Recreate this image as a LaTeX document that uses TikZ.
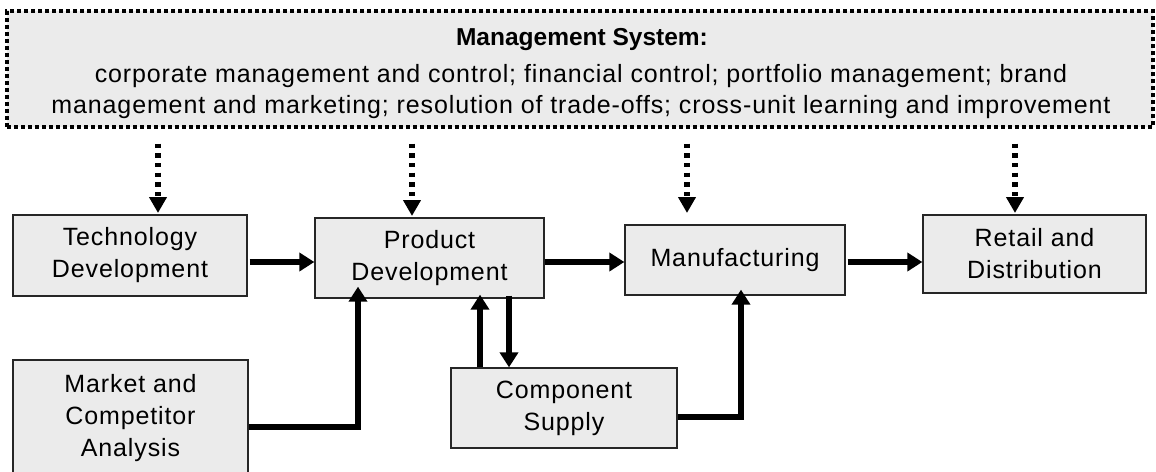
\documentclass[tikz,border=0pt]{standalone}
\usepackage{fontspec}
\setmainfont{Liberation Sans}[LetterSpace=3.5]
\newfontfamily\titlefont{Liberation Sans}[LetterSpace=0]
\usetikzlibrary{arrows.meta}
\definecolor{boxfill}{HTML}{EBEBEB}
\tikzset{
  stagebox/.style={draw=black!85, line width=1.3pt, fill=boxfill, align=center,
    inner sep=0pt, font=\fontsize{25}{32}\selectfont},
  txt/.style={anchor=base, inner sep=0pt, font=\fontsize{25}{31}\selectfont},
  flow/.style={line width=6pt, -{Triangle[length=15pt,width=18pt]}},
  ctrl/.style={line width=5.5pt, dash pattern=on 4.3pt off 5.4pt, -{Triangle[length=16pt,width=17pt]}},
}
\begin{document}
\begin{tikzpicture}[x=1pt,y=-1pt]
\useasboundingbox (0,0) rectangle (1156,471);
% management system
\node[draw=black, line width=3.2pt, dash pattern=on 4pt off 3pt, fill=boxfill,
  minimum width=1146pt, minimum height=116pt, inner sep=0pt] (mgmt) at (580,69) {};
\node[txt, font=\fontsize{24.5}{31}\titlefont\bfseries] (mtitle) at (582,45) {Management System:};
\node[txt] (mline1) at (581,82) {corporate management and control; financial control; portfolio management; brand};
\node[txt] (mline2) at (581,113) {management and marketing; resolution of trade-offs; cross-unit learning and improvement};
% stages
\node[stagebox, minimum width=234pt, minimum height=81pt] (tech) at (130,255.5) {Technology\\Development};
\node[stagebox, minimum width=229pt, minimum height=80pt] (prod) at (429.5,258) {Product\\Development};
\node[stagebox, minimum width=220pt, minimum height=70pt] (manu) at (735,260) {Manufacturing};
\node[stagebox, minimum width=223pt, minimum height=78pt] (retail) at (1034.5,254) {Retail and\\Distribution};
\node[stagebox, minimum width=235pt, minimum height=116pt] (market) at (130.5,418) {Market and\\Competitor\\Analysis};
\node[stagebox, minimum width=226pt, minimum height=80pt] (comp) at (564,408) {Component\\Supply};
% helper coordinates
\coordinate (yflow) at (0,262);
\coordinate (d1) at (158,213);
\coordinate (d2) at (412,216);
\coordinate (d3) at (687,213);
\coordinate (d4) at (1015,213);
\coordinate (mk) at (358,427);
\coordinate (cs) at (741,417);
\coordinate (up) at (480,0);
\coordinate (dn) at (509,0);
% control arrows
\foreach \d in {d1,d2,d3,d4}{
  \draw[ctrl] ([yshift=-15pt]mgmt.south -| \d) -- (\d);
}
% flow arrows
\draw[flow] ([xshift=2pt]tech.east |- yflow) -- (prod.west |- yflow);
\draw[flow] (prod.east |- yflow) -- (manu.west |- yflow);
\draw[flow] ([xshift=2pt]manu.east |- yflow) -- (retail.west |- yflow);
\draw[flow] (market.east |- mk) -| ([yshift=12pt]prod.south -| mk);
\draw[flow] (comp.north -| up) -- ([yshift=4pt]prod.south -| up);
\draw[flow] ([yshift=3pt]prod.south -| dn) -- (comp.north -| dn);
\draw[flow] (comp.east |- cs) -| ([yshift=6pt]manu.south -| cs);
\end{tikzpicture}
\end{document}
